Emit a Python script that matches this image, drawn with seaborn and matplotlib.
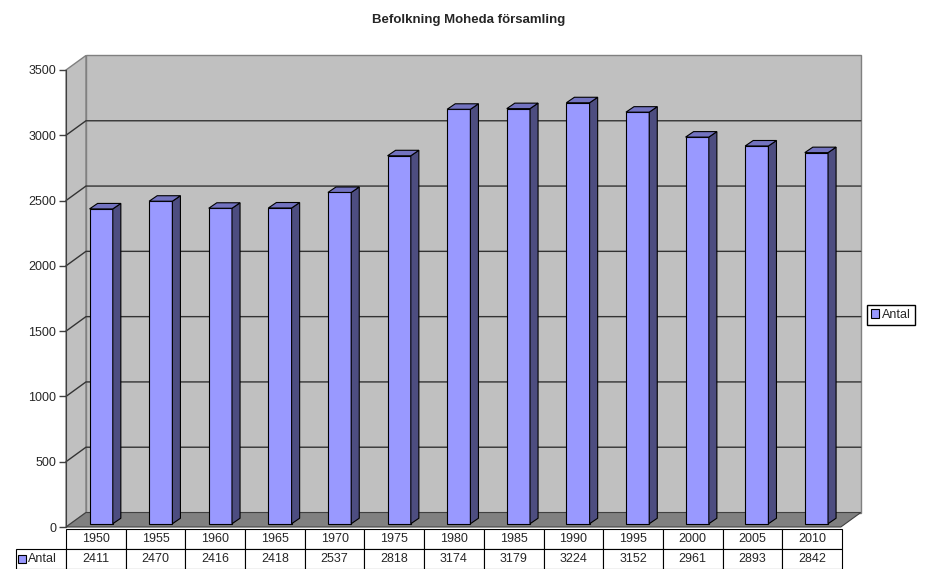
import seaborn as sns
import matplotlib.pyplot as plt
import pandas as pd
from matplotlib.patches import Polygon, Rectangle, Patch

years = ["1950", "1955", "1960", "1965", "1970", "1975", "1980",
         "1985", "1990", "1995", "2000", "2005", "2010"]
antal = [2411, 2470, 2416, 2418, 2537, 2818, 3174,
         3179, 3224, 3152, 2961, 2893, 2842]
yticks = [0, 500, 1000, 1500, 2000, 2500, 3000, 3500]

sns.set_style("white")
plt.rcParams["font.family"] = ["Liberation Sans", "DejaVu Sans"]
plt.rcParams["font.size"] = 9

fig = plt.figure(figsize=(9.37, 5.69), dpi=100)
ax = fig.add_axes([66 / 937, 42 / 569, 796 / 937, 474 / 569])

# 3d look: depth of the box and of the bars (data units)
ddx, ddy = 0.335, 111
bx, by = 0.09, 25
sdx, sdy = 0.135, 42
x0, x1 = -0.5, 12.5
ymax = yticks[-1]

# walls and floor
ax.add_patch(Rectangle((x0 + ddx, ddy), x1 - x0, ymax, fc="#c0c0c0",
                       ec="#808080", lw=1, zorder=0, clip_on=False))
ax.add_patch(Polygon([(x0, 0), (x0, ymax), (x0 + ddx, ymax + ddy), (x0 + ddx, ddy)],
                     fc="#c0c0c0", ec="#808080", lw=1, zorder=0, clip_on=False))
for v in yticks[1:-1]:
    ax.plot([x0, x0 + ddx, x1 + ddx], [v, v + ddy, v + ddy],
            color="#333333", lw=1, zorder=1, clip_on=False)
ax.add_patch(Polygon([(x0, 0), (x1, 0), (x1 + ddx, ddy), (x0 + ddx, ddy)],
                     fc="#808080", ec="#404040", lw=0.8, zorder=2, clip_on=False))

df = pd.DataFrame({"year": years, "Antal": antal})
sns.barplot(df, x="year", y="Antal", color="#9999ff", saturation=1, width=0.39,
            edgecolor="black", linewidth=0.8, ax=ax, zorder=5)

for p in list(ax.patches):
    if p.get_zorder() != 5:
        continue
    p.set_x(p.get_x() + bx)
    p.set_y(by)
    xl = p.get_x()
    xr = xl + p.get_width()
    top = by + p.get_height()
    ax.add_patch(Polygon([(xr, by), (xr + sdx, by + sdy), (xr + sdx, top + sdy), (xr, top)],
                         fc="#4d4d80", ec="black", lw=0.8, zorder=5, clip_on=False))
    ax.add_patch(Polygon([(xl, top), (xr, top), (xr + sdx, top + sdy), (xl + sdx, top + sdy)],
                         fc="#7373c0", ec="black", lw=0.8, zorder=5, clip_on=False))

ax.set_xlim(x0, x1 + ddx + 0.02)
ax.set_ylim(0, 3630)
ax.set_xticks([])
ax.set_yticks(yticks)
ax.set_xlabel("")
ax.set_ylabel("")
for s in ["top", "right", "bottom"]:
    ax.spines[s].set_visible(False)
ax.spines["left"].set_bounds(0, ymax)
ax.spines["left"].set_color("#404040")
ax.tick_params(axis="y", direction="out", length=5, width=1, color="#404040",
               labelsize=9, pad=2, left=True)

# data table under the chart, first column holds the series label
cells = [[""] + years, ["Antal"] + [str(v) for v in antal]]
tbl = ax.table(cellText=cells, cellLoc="center",
               bbox=[-50 / 796, -42 / 474, 826 / 796, 40 / 474])
tbl.auto_set_font_size(False)
tbl.set_fontsize(9)
for (r, c), cell in tbl.get_celld().items():
    cell.set_width(50 if c == 0 else 59.7)
    cell.set_linewidth(0.8)
    cell.PAD = 0.02
tbl[0, 0].visible_edges = "open"
tbl[1, 0].get_text().set_horizontalalignment("left")
tbl[1, 0].PAD = 0.24
fig.add_artist(Rectangle((18 / 937, 6 / 569), 8 / 937, 8 / 569, transform=fig.transFigure,
                         fc="#9999ff", ec="black", lw=0.8))

fig.legend(handles=[Patch(fc="#9999ff", ec="black", lw=0.8, label="Antal")],
           loc="center left", bbox_to_anchor=(867 / 937, (569 - 315) / 569),
           frameon=True, fancybox=False, edgecolor="black", framealpha=1,
           handlelength=0.7, handleheight=0.7, handletextpad=0.2,
           borderpad=0.3, borderaxespad=0, fontsize=9)

fig.text(0.5, 1 - 20 / 569, "Befolkning Moheda församling", ha="center", va="center",
         fontsize=9.5, fontweight="bold")

fig.savefig("out.png", dpi=100)
